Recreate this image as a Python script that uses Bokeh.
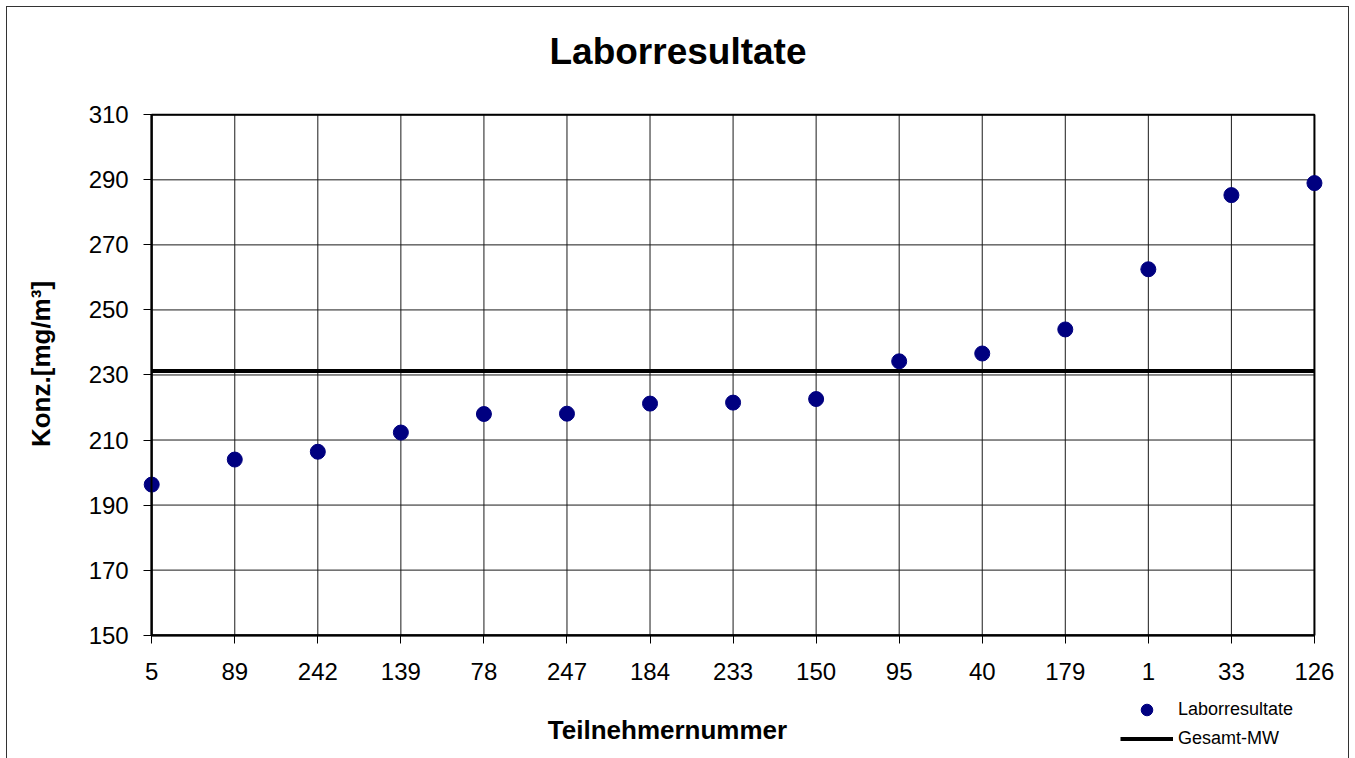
import math
from bokeh.plotting import figure
from bokeh.models import Range1d, FixedTicker, Legend, LegendItem, ColumnDataSource, Label
from bokeh.embed import file_html
from bokeh.resources import INLINE

# ---- data ----
teilnehmer = ["5", "89", "242", "139", "78", "247", "184", "233", "150",
              "95", "40", "179", "1", "33", "126"]
laborresultate = [196.3, 204.0, 206.4, 212.3, 218.0, 218.1, 221.2, 221.5, 222.6,
                  234.2, 236.6, 244.0, 262.5, 285.3, 289.0]
gesamt_mw = 231.2
y_ticks = [150, 170, 190, 210, 230, 250, 270, 290, 310]

# ---- layout (pixels inside the canvas) ----
FONT = "Liberation Sans"
CANVAS_W, CANVAS_H = 1341, 751
BOX_L, BOX_R, BOX_T, BOX_B = 144, 1305, 107, 626

xpos = list(range(len(teilnehmer)))
x0, x1 = xpos[0], xpos[-1]
y0, y1 = y_ticks[0], y_ticks[-1]
xs = (BOX_R - BOX_L) / (x1 - x0)
ys = (BOX_B - BOX_T) / (y1 - y0)
x_range = Range1d(x0 - BOX_L / xs, x1 + (CANVAS_W - BOX_R) / xs)
y_range = Range1d(y0 - (CANVAS_H - BOX_B) / ys, y1 + BOX_T / ys)

src = ColumnDataSource(dict(x=xpos, y=laborresultate, name=teilnehmer))

p = figure(width=CANVAS_W + 2, height=CANVAS_H + 2, output_backend="svg", toolbar_location=None,
           x_range=x_range, y_range=y_range,
           min_border_left=0, min_border_right=0, min_border_top=0, min_border_bottom=0,
           background_fill_color="white", border_fill_color="white")
p.styles = {"border": "1px solid #333333", "margin-left": "6px", "margin-top": "6px"}
p.title.visible = False
p.outline_line_color = None
p.xgrid.visible = False
p.ygrid.visible = False

# grid lines inside the plot box
GRID = "#1a1a1a"
p.segment(x0=[x0] * len(y_ticks), x1=[x1] * len(y_ticks), y0=y_ticks, y1=y_ticks,
          line_color=GRID, line_width=1)
p.segment(x0=xpos, x1=xpos, y0=[y0] * len(xpos), y1=[y1] * len(xpos),
          line_color=GRID, line_width=1)
# plot box
p.quad(left=[x0], right=[x1], bottom=[y0], top=[y1],
       fill_color=None, line_color="black", line_width=2)

# axes, anchored at the plot box
xa = p.xaxis[0]
xa.ticker = FixedTicker(ticks=xpos)
xa.major_label_overrides = {i: t for i, t in zip(xpos, teilnehmer)}
xa.bounds = (x0, x1)
xa.fixed_location = y0
ya = p.yaxis[0]
ya.ticker = FixedTicker(ticks=y_ticks)
ya.bounds = (y0, y1)
ya.fixed_location = x0
for ax in (xa, ya):
    ax.axis_line_color = "black"
    ax.axis_line_width = 2
    ax.major_tick_in = 0
    ax.major_tick_out = 8
    ax.major_tick_line_color = "black"
    ax.minor_tick_line_color = None
    ax.major_label_text_font = FONT
    ax.major_label_text_font_size = "24px"
    ax.major_label_text_color = "black"
xa.major_label_standoff = 20
ya.major_label_standoff = 15

# mean line
mw = p.line(x=[x0, x1], y=[gesamt_mw, gesamt_mw], line_color="black", line_width=4)
# points
pts = p.scatter("x", "y", source=src, size=15, fill_color="#000080", line_color="#000080")

# title and axis titles (positions in canvas pixels, measured from bottom-left)
p.add_layout(Label(x=670.5, y=CANVAS_H - 42, x_units="screen", y_units="screen",
                   text="Laborresultate", text_font=FONT, text_font_size="37px",
                   text_font_style="bold", text_color="black",
                   text_align="center", text_baseline="middle"))
p.add_layout(Label(x=660, y=CANVAS_H - 720.5, x_units="screen", y_units="screen",
                   text="Teilnehmernummer", text_font=FONT, text_font_size="26px",
                   text_font_style="bold", text_color="black",
                   text_align="center", text_baseline="middle"))
p.add_layout(Label(x=33.5, y=CANVAS_H - 354.5, x_units="screen", y_units="screen",
                   text="Konz.[mg/m³]", text_font=FONT, text_font_size="26px",
                   text_font_style="bold", text_color="black", angle=math.pi / 2,
                   text_align="center", text_baseline="middle"))

legend = Legend(items=[LegendItem(label="Laborresultate", renderers=[pts]),
                       LegendItem(label="Gesamt-MW", renderers=[mw])],
                location=(1113, 7), orientation="vertical",
                glyph_width=53, glyph_height=29, label_height=29, spacing=0,
                label_standoff=5, padding=0, margin=0,
                border_line_color=None, background_fill_alpha=0,
                label_text_font=FONT, label_text_font_size="18px", label_text_color="black")
p.add_layout(legend, "center")

open("out.html", "w").write(file_html(p, INLINE))
